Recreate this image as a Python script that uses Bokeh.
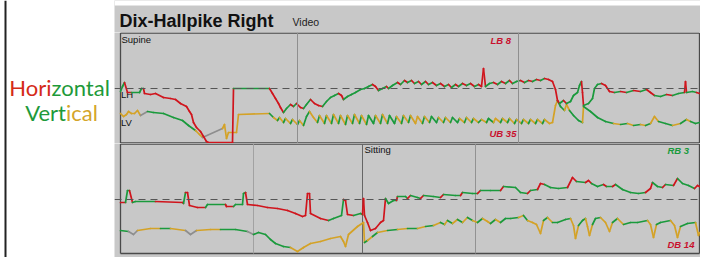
from bokeh.plotting import figure
from bokeh.layouts import row, column
from bokeh.models import Range1d, Span, ColumnDataSource
from bokeh.embed import file_html
from bokeh.resources import INLINE
from bokeh.core.properties import value

# ---------------- data (time in samples, position relative to the dashed zero line) -------------
top_h_t = [0, 2, 4, 7, 11, 19, 21, 23, 24, 30,
           35, 43, 50, 55, 60, 66, 69, 71, 73, 76,
           80, 83, 86, 88, 112, 113, 149, 152, 155, 158,
           160, 163, 166, 170, 173, 176, 180, 183, 186, 190,
           194, 198, 202, 206, 210, 214, 218, 221, 223, 227,
           231, 235, 240, 244, 248, 252, 255, 258, 262, 266,
           268, 272, 277, 280, 284, 287, 291, 294, 298, 301,
           305, 308, 312, 316, 320, 324, 328, 331, 335, 338,
           342, 346, 350, 354, 358, 361, 363, 365, 369, 373,
           377, 381, 385, 389, 392, 396, 400, 404, 408, 412,
           416, 420, 424, 428, 432, 435, 437, 439, 443, 446,
           450, 453, 457, 459, 461, 462, 463, 468, 472, 474,
           477, 481, 485, 489, 494, 500, 506, 513, 520, 526,
           530, 534, 540, 546, 552, 558, 564, 565, 566, 572,
           576, 579]
top_h_v = [-3, 2, 6, -4, -4, -4, 0, 0, -5, -6,
           -5, -9, -10, -11, -15, -18, -23, -26, -34, -39,
           -43, -48, -53, -54, -54, 0, 0, -5, -10, -15,
           -19, -24, -20, -16, -18, -15, -19, -20, -16, -11,
           -15, -17, -18, -13, -9, -7, -5, -7, -11, -8,
           -6, -4, -1, 0, 2, 4, 2, -2, 0, 2,
           0, 3, 6, 4, 8, 6, 8, 5, 7, 4,
           7, 4, 6, 3, 5, 2, 4, 1, 4, 2,
           5, 3, 5, 2, 4, 2, 20, 2, 5, 6,
           4, 7, 5, 8, 5, 7, 8, 6, 8, 7,
           9, 8, 10, 9, 7, -1, -12, -15, -12, -15,
           -13, -7, -4, 3, 7, -4, -17, -15, -10, 0,
           4, 5, 3, -3, -4, -3, -4, -2, -3, -1,
           -4, -7, -8, -6, -7, -5, -4, 7, -4, -3,
           -4, -5]
top_h_c = ("ggrrgggrrr" "rrrrrrrrrr" "rrrrrgrrrr" "rggrgrrggr" "rrggggrrgg"
           "gggggrrggr" "ggrgrgrgrg" "rgrgrgrgrg" "rgrgrrrggr" "grgrggrgrg"
           "rgrrrrrgrg" "ggggrrgggg" "grrrgrgrgr" "rggrggrrgg" "r")

top_v_t = [0, 3, 6, 8, 11, 14, 17, 20, 27, 33,
           43, 53, 62, 68, 75, 79, 82, 102, 104, 106,
           108, 116, 118, 149, 153, 157, 159, 163, 165, 170,
           172, 177, 179, 183, 186, 189, 193, 197, 199, 204,
           206, 211, 213, 218, 220, 225, 227, 232, 234, 239,
           241, 246, 248, 253, 255, 260, 262, 267, 269, 274,
           276, 281, 283, 288, 290, 295, 297, 302, 304, 309,
           311, 316, 318, 323, 325, 330, 332, 337, 339, 344,
           346, 351, 353, 358, 361, 366, 368, 373, 375, 380,
           382, 387, 389, 394, 396, 401, 403, 408, 410, 415,
           417, 422, 424, 429, 432, 435, 437, 440, 444, 446,
           449, 453, 458, 462, 463, 470, 477, 485, 493, 500,
           507, 513, 520, 525, 530, 534, 538, 545, 552, 560,
           566, 570, 575, 579]
top_v_v = [-25, -28, -26, -23, -25, -25, -22, -27, -23, -24,
           -25, -29, -32, -37, -42, -46, -49, -40, -36, -50,
           -44, -44, -26, -25, -29, -32, -29, -34, -30, -35,
           -31, -36, -32, -37, -28, -23, -29, -34, -27, -35,
           -27, -35, -26, -35, -27, -36, -27, -35, -26, -35,
           -27, -36, -27, -35, -27, -35, -26, -35, -27, -35,
           -28, -35, -27, -34, -27, -35, -28, -35, -28, -34,
           -28, -34, -29, -34, -29, -34, -29, -34, -30, -34,
           -29, -34, -30, -34, -31, -34, -30, -34, -30, -34,
           -30, -34, -30, -35, -31, -35, -31, -35, -31, -35,
           -31, -35, -31, -35, -34, -17, -12, -18, -22, -16,
           -22, -27, -32, -34, -18, -23, -29, -33, -35, -36,
           -35, -37, -36, -37, -35, -28, -33, -35, -37, -35,
           -31, -33, -35, -34]
top_v_c = ("yyyyyyykgg" "ggggyykyyy" "yyygygygyg" "ygyggyygyg" "ygygygygyg"
           "ygggygyggg" "ygygyyygyg" "ggygygggyg" "ygygyggyyg" "ygygygygyg"
           "ygyyyyggyy" "gggyggggyg" "ygygyyggyg" "ygg")

bot_h_t = [0, 5, 7, 9, 12, 15, 35, 62, 63, 65,
           67, 69, 77, 85, 87, 105, 106, 113, 115, 122,
           123, 125, 127, 137, 147, 157, 167, 175, 182, 185,
           187, 189, 190, 200, 208, 213, 221, 223, 225, 227,
           233, 240, 242, 243, 244, 247, 250, 255, 260, 263,
           265, 268, 273, 276, 277, 285, 287, 290, 297, 300,
           303, 313, 320, 323, 335, 340, 342, 352, 357, 360,
           370, 380, 383, 395, 400, 407, 410, 417, 420, 424,
           430, 438, 447, 452, 456, 465, 468, 471, 477, 483,
           486, 492, 495, 502, 510, 518, 525, 530, 532, 537,
           542, 545, 553, 557, 562, 568, 574, 577, 579]
bot_h_v = [-3, -3, 9, 9, -3, -2, -2, -3, -4, 7,
           7, -6, -8, -8, -5, -5, -7, -7, -5, -5,
           6, 7, -5, -6, -8, -9, -11, -14, -17, -16,
           6, 6, -14, -19, -21, -19, -16, 0, -1, -15,
           -16, -14, -15, 1, -16, -23, -31, -29, -23, -21,
           1, -4, -1, -1, 3, 3, 1, 4, 2, 1,
           4, 3, 2, 5, 4, 4, 7, 6, 6, 9,
           9, 9, 13, 12, 7, 6, 9, 10, 16, 15,
           12, 11, 12, 22, 18, 17, 19, 16, 13, 15,
           13, 13, 15, 10, 7, 6, 7, 11, 17, 13,
           12, 15, 14, 21, 16, 14, 11, 14, 13]
bot_h_c = ("rggrggrrgr" "rrrggrrggg" "grrrrrrrrr" "rrrrgggrrr" "ggrrrrrrrr"
           "gggrggrggr" "ggrggrggrg" "grgggrgrrg" "ggrrgrrggr" "grggggrrgg"
           "rgrgggrr")

bot_v_t = [0, 8, 13, 17, 30, 40, 50, 65, 70, 76,
           90, 100, 115, 127, 133, 138, 145, 150, 155, 163,
           170, 177, 183, 190, 200, 210, 220, 223, 225, 228,
           237, 243, 244, 247, 252, 257, 267, 277, 287, 297,
           305, 313, 320, 324, 327, 332, 337, 342, 347, 352,
           357, 362, 367, 370, 375, 380, 385, 390, 398, 403,
           407, 412, 416, 420, 423, 427, 432, 437, 445, 450,
           453, 455, 458, 462, 465, 467, 469, 472, 475, 480,
           485, 489, 492, 497, 503, 510, 517, 527, 530, 533,
           536, 540, 550, 554, 557, 560, 567, 575, 578, 579]
bot_v_v = [-31, -32, -35, -31, -29, -29, -29, -31, -35, -31,
           -30, -30, -30, -32, -35, -33, -35, -40, -44, -47,
           -48, -52, -48, -44, -42, -39, -37, -42, -47, -35,
           -27, -23, -43, -41, -37, -33, -31, -30, -29, -29,
           -27, -26, -23, -25, -21, -24, -20, -23, -18, -21,
           -23, -19, -22, -24, -20, -23, -19, -19, -18, -16,
           -21, -23, -25, -34, -21, -18, -23, -23, -20, -19,
           -26, -39, -26, -21, -19, -27, -36, -25, -19, -18,
           -23, -32, -23, -19, -25, -23, -23, -21, -25, -38,
           -25, -23, -21, -26, -38, -27, -24, -23, -36, -33]
bot_v_c = ("gkkyygykky" "yggkgggggg" "yyyyyyyyyy" "yygygygygy" "gygygygygy"
           "gyygygggyg" "yyyygygggy" "yyggyyyggy" "yygygggyyy" "ggyyyggyy")

top_marks = [177, 398]          # vertical grid lines, top panel
bot_marks = [133, 242, 355]     # vertical grid lines, bottom panel
t_end = 579                     # last sample of each panel

# ---------------- styling ----------------
BG = "#c8c8c8"
COL = {"r": "#d0141c", "g": "#1a9a3c", "y": "#d4a226", "k": "#8e8e8e"}
SANS = "Liberation Sans"
EDGE = "#4a4a4a"


def bare(w, h, xr, yr, bg):
    p = figure(width=w, height=h, x_range=xr, y_range=yr, output_backend="svg",
               toolbar_location=None, x_axis_location=None, y_axis_location=None,
               min_border=0)
    p.grid.grid_line_color = None
    p.background_fill_color = bg
    p.border_fill_color = bg
    p.outline_line_color = None
    return p


def trace(p, t, v, codes):
    n = min(len(t), len(v))
    cols = [COL[codes[i]] if i < len(codes) else COL["g"] for i in range(n - 1)]
    src = ColumnDataSource(dict(x0=t[:n - 1], y0=v[:n - 1], x1=t[1:n], y1=v[1:n], c=cols))
    p.segment("x0", "y0", "x1", "y1", source=src, line_color="c", line_width=1.7,
              line_cap="round")


def label(p, x, y, txt, size, color="#111111", style="normal", font=SANS, align="left"):
    p.text(x=[x], y=[y], text=[txt], text_font=value(font), text_font_size=size,
           text_color=color, text_font_style=style, text_baseline="middle",
           text_align=align)


# ---------------- left legend panel ----------------
L = bare(114, 257, Range1d(0, 114), Range1d(257, 0), "white")
L.segment(x0=[5], y0=[0], x1=[5], y1=[257], line_color="#222222", line_width=2)
label(L, 51, 87, "Hori", "22px", "#d42a18", font="Lato", align="right")
label(L, 51, 87, "zontal", "22px", "#1e9a3a", font="Lato")
label(L, 65.5, 112, "Vert", "22px", "#1e9a3a", font="Lato", align="right")
label(L, 65.5, 112, "ical", "22px", "#d4a52a", font="Lato")

# ---------------- header ----------------
H = bare(586, 32, Range1d(114, 700), Range1d(32, 0), BG)
H.quad(left=[114], right=[700], top=[0], bottom=[5], fill_color="white", line_color=None)
label(H, 119, 20, "Dix-Hallpike Right", "18px", "#111111", style="bold")
label(H, 292, 21.5, "Video", "10.5px", "#222222")


def panel(h, yr, top_edge, bottom_edge):
    p = bare(586, h, Range1d(-6, 580), yr, BG)
    p.add_layout(Span(location=0, dimension="width", line_color="#555555",
                      line_width=1.2, line_dash="7 5"))
    p.segment(x0=[0, 0], y0=[top_edge, bottom_edge], x1=[t_end, t_end],
              y1=[top_edge, bottom_edge], line_color=EDGE, line_width=1.5)
    p.segment(x0=[0, t_end], y0=[top_edge, top_edge], x1=[0, t_end],
              y1=[bottom_edge, bottom_edge], line_color=EDGE, line_width=1.3)
    return p


T = panel(111, Range1d(-55, 56), 55.4, -54.6)
for m in top_marks:
    T.add_layout(Span(location=m, dimension="height", line_color="#8f8f8f", line_width=1))
label(T, 1, 49.5, "Supine", "9.5px")
label(T, 0.5, -5.5, "LH", "9.5px")
label(T, 0.5, -33.5, "LV", "9.5px")
label(T, 370, 48, "LB 8", "9.5px", "#c8102e", style="bold italic")
label(T, 369, -44.5, "UB 35", "9.5px", "#c8102e", style="bold italic")
trace(T, top_v_t, top_v_v, top_v_c)
trace(T, top_h_t, top_h_v, top_h_c)

B = bare(586, 114, Range1d(-6, 580), Range1d(-58, 56), BG)
B.add_layout(Span(location=0, dimension="width", line_color="#555555",
                  line_width=1.2, line_dash="7 5"))
B.segment(x0=[0, 0], y0=[55.4, -54], x1=[t_end, t_end], y1=[55.4, -54],
          line_color=EDGE, line_width=1.5)
B.segment(x0=[0, t_end], y0=[55.4, 55.4], x1=[0, t_end], y1=[-54, -54],
          line_color=EDGE, line_width=1.3)
for m, c in zip(bot_marks, ["#a2a2a2", "#666666", "#929292"]):
    B.segment(x0=[m], y0=[55.4], x1=[m], y1=[-54], line_color=c, line_width=1)
label(B, 244, 50.5, "Sitting", "9.5px")
label(B, 547, 49, "RB 3", "9.5px", "#1a9a3c", style="bold italic")
label(B, 547, -44.5, "DB 14", "9.5px", "#c8102e", style="bold italic")
trace(B, bot_v_t, bot_v_v, bot_v_c)
trace(B, bot_h_t, bot_h_v, bot_h_c)

R = bare(6, 257, Range1d(0, 6), Range1d(0, 257), "white")

page = row(L, column(H, T, B, spacing=0), R, spacing=0)
open("out.html", "w").write(file_html(page, INLINE))
